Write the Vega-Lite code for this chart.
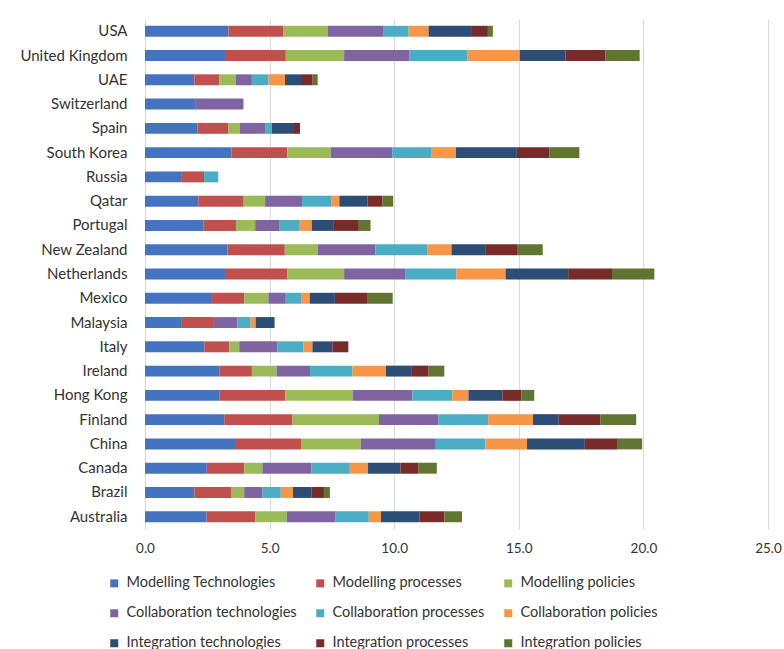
{
  "$schema": "https://vega.github.io/schema/vega-lite/v6.json",
  "width": 623,
  "height": 510,
  "autosize": {"type": "none"},
  "padding": {"left": 145, "top": 19, "right": 16, "bottom": 120},
  "background": "white",
  "datasets": {
    "dims": [
      {"dimension": "Modelling Technologies", "rank": 1},
      {"dimension": "Modelling processes", "rank": 2},
      {"dimension": "Modelling policies", "rank": 3},
      {"dimension": "Collaboration technologies", "rank": 4},
      {"dimension": "Collaboration processes", "rank": 5},
      {"dimension": "Collaboration policies", "rank": 6},
      {"dimension": "Integration technologies", "rank": 7},
      {"dimension": "Integration processes", "rank": 8},
      {"dimension": "Integration policies", "rank": 9}
    ]
  },
  "data": {
    "values": [
      {"country": "USA", "Modelling Technologies": 3.35, "Modelling processes": 2.19, "Modelling policies": 1.80, "Collaboration technologies": 2.24, "Collaboration processes": 1.00, "Collaboration policies": 0.80, "Integration technologies": 1.74, "Integration processes": 0.64, "Integration policies": 0.20},
      {"country": "United Kingdom", "Modelling Technologies": 3.21, "Modelling processes": 2.44, "Modelling policies": 2.34, "Collaboration technologies": 2.61, "Collaboration processes": 2.34, "Collaboration policies": 2.10, "Integration technologies": 1.84, "Integration processes": 1.60, "Integration policies": 1.37},
      {"country": "UAE", "Modelling Technologies": 1.98, "Modelling processes": 1.00, "Modelling policies": 0.67, "Collaboration technologies": 0.64, "Collaboration processes": 0.67, "Collaboration policies": 0.66, "Integration technologies": 0.64, "Integration processes": 0.47, "Integration policies": 0.20},
      {"country": "Switzerland", "Modelling Technologies": 2.04, "Modelling processes": 0, "Modelling policies": 0, "Collaboration technologies": 1.91, "Collaboration processes": 0, "Collaboration policies": 0, "Integration technologies": 0, "Integration processes": 0, "Integration policies": 0},
      {"country": "Spain", "Modelling Technologies": 2.11, "Modelling processes": 1.24, "Modelling policies": 0.46, "Collaboration technologies": 1.01, "Collaboration processes": 0.27, "Collaboration policies": 0, "Integration technologies": 0.89, "Integration processes": 0.24, "Integration policies": 0},
      {"country": "South Korea", "Modelling Technologies": 3.47, "Modelling processes": 2.24, "Modelling policies": 1.74, "Collaboration technologies": 2.47, "Collaboration processes": 1.56, "Collaboration policies": 1.00, "Integration technologies": 2.44, "Integration processes": 1.30, "Integration policies": 1.21},
      {"country": "Russia", "Modelling Technologies": 1.48, "Modelling processes": 0.89, "Modelling policies": 0, "Collaboration technologies": 0, "Collaboration processes": 0.57, "Collaboration policies": 0, "Integration technologies": 0, "Integration processes": 0, "Integration policies": 0},
      {"country": "Qatar", "Modelling Technologies": 2.14, "Modelling processes": 1.82, "Modelling policies": 0.86, "Collaboration technologies": 1.48, "Collaboration processes": 1.19, "Collaboration policies": 0.31, "Integration technologies": 1.13, "Integration processes": 0.60, "Integration policies": 0.43},
      {"country": "Portugal", "Modelling Technologies": 2.34, "Modelling processes": 1.31, "Modelling policies": 0.77, "Collaboration technologies": 0.96, "Collaboration processes": 0.83, "Collaboration policies": 0.48, "Integration technologies": 0.89, "Integration processes": 1.00, "Integration policies": 0.47},
      {"country": "New Zealand", "Modelling Technologies": 3.31, "Modelling processes": 2.30, "Modelling policies": 1.33, "Collaboration technologies": 2.31, "Collaboration processes": 2.07, "Collaboration policies": 0.98, "Integration technologies": 1.35, "Integration processes": 1.28, "Integration policies": 1.03},
      {"country": "Netherlands", "Modelling Technologies": 3.21, "Modelling processes": 2.51, "Modelling policies": 2.27, "Collaboration technologies": 2.47, "Collaboration processes": 2.03, "Collaboration policies": 1.98, "Integration technologies": 2.51, "Integration processes": 1.76, "Integration policies": 1.70},
      {"country": "Mexico", "Modelling Technologies": 2.65, "Modelling processes": 1.33, "Modelling policies": 0.97, "Collaboration technologies": 0.70, "Collaboration processes": 0.64, "Collaboration policies": 0.32, "Integration technologies": 1.01, "Integration processes": 1.29, "Integration policies": 1.03},
      {"country": "Malaysia", "Modelling Technologies": 1.48, "Modelling processes": 1.25, "Modelling policies": 0, "Collaboration technologies": 0.97, "Collaboration processes": 0.54, "Collaboration policies": 0.20, "Integration technologies": 0.76, "Integration processes": 0, "Integration policies": 0},
      {"country": "Italy", "Modelling Technologies": 2.38, "Modelling processes": 1.00, "Modelling policies": 0.40, "Collaboration technologies": 1.54, "Collaboration processes": 1.03, "Collaboration policies": 0.37, "Integration technologies": 0.80, "Integration processes": 0.64, "Integration policies": 0},
      {"country": "Ireland", "Modelling Technologies": 2.98, "Modelling processes": 1.31, "Modelling policies": 0.99, "Collaboration technologies": 1.34, "Collaboration processes": 1.71, "Collaboration policies": 1.34, "Integration technologies": 1.04, "Integration processes": 0.67, "Integration policies": 0.63},
      {"country": "Hong Kong", "Modelling Technologies": 2.98, "Modelling processes": 2.65, "Modelling policies": 2.70, "Collaboration technologies": 2.40, "Collaboration processes": 1.60, "Collaboration policies": 0.65, "Integration technologies": 1.36, "Integration processes": 0.76, "Integration policies": 0.52},
      {"country": "Finland", "Modelling Technologies": 3.18, "Modelling processes": 2.74, "Modelling policies": 3.47, "Collaboration technologies": 2.38, "Collaboration processes": 2.00, "Collaboration policies": 1.80, "Integration technologies": 1.03, "Integration processes": 1.67, "Integration policies": 1.44},
      {"country": "China", "Modelling Technologies": 3.61, "Modelling processes": 2.65, "Modelling policies": 2.40, "Collaboration technologies": 3.01, "Collaboration processes": 1.99, "Collaboration policies": 1.67, "Integration technologies": 2.32, "Integration processes": 1.29, "Integration policies": 1.01},
      {"country": "Canada", "Modelling Technologies": 2.48, "Modelling processes": 1.50, "Modelling policies": 0.73, "Collaboration technologies": 1.96, "Collaboration processes": 1.55, "Collaboration policies": 0.73, "Integration technologies": 1.30, "Integration processes": 0.73, "Integration policies": 0.73},
      {"country": "Brazil", "Modelling Technologies": 1.98, "Modelling processes": 1.47, "Modelling policies": 0.53, "Collaboration technologies": 0.73, "Collaboration processes": 0.74, "Collaboration policies": 0.49, "Integration technologies": 0.75, "Integration processes": 0.49, "Integration policies": 0.24},
      {"country": "Australia", "Modelling Technologies": 2.47, "Modelling processes": 1.95, "Modelling policies": 1.27, "Collaboration technologies": 1.96, "Collaboration processes": 1.33, "Collaboration policies": 0.49, "Integration technologies": 1.54, "Integration processes": 1.00, "Integration policies": 0.71}
    ]
  },
  "transform": [
    {
      "fold": ["Modelling Technologies", "Modelling processes", "Modelling policies", "Collaboration technologies", "Collaboration processes", "Collaboration policies", "Integration technologies", "Integration processes", "Integration policies"],
      "as": ["dimension", "score"]
    },
    {
      "lookup": "dimension",
      "from": {"data": {"name": "dims"}, "key": "dimension", "fields": ["rank"]}
    }
  ],
  "mark": {"type": "bar"},
  "encoding": {
    "y": {
      "field": "country",
      "type": "nominal",
      "sort": ["USA", "United Kingdom", "UAE", "Switzerland", "Spain", "South Korea", "Russia", "Qatar", "Portugal", "New Zealand", "Netherlands", "Mexico", "Malaysia", "Italy", "Ireland", "Hong Kong", "Finland", "China", "Canada", "Brazil", "Australia"],
      "scale": {"paddingInner": 0.55, "paddingOuter": 0.28},
      "axis": {
        "title": null,
        "domain": false,
        "ticks": false,
        "labelPadding": 18,
        "labelFont": "Lato",
        "labelFontSize": 15,
        "labelColor": "#333333"
      }
    },
    "x": {
      "field": "score",
      "type": "quantitative",
      "stack": "zero",
      "scale": {"domain": [0, 25], "nice": false},
      "axis": {
        "title": null,
        "values": [0, 5, 10, 15, 20, 25],
        "format": ".1f",
        "domain": false,
        "ticks": false,
        "labelFlush": false,
        "labelPadding": 12,
        "labelFont": "Lato",
        "labelFontSize": 13.5,
        "labelColor": "#333333",
        "gridColor": "#d9d9d9",
        "gridWidth": 1
      }
    },
    "order": {"field": "rank", "type": "quantitative", "sort": "ascending"},
    "color": {
      "field": "dimension",
      "type": "nominal",
      "scale": {
        "domain": ["Modelling Technologies", "Modelling processes", "Modelling policies", "Collaboration technologies", "Collaboration processes", "Collaboration policies", "Integration technologies", "Integration processes", "Integration policies"],
        "range": ["#4474BF", "#C0504D", "#9BBB59", "#8064A2", "#4BACC6", "#F79646", "#2C4D75", "#772C2A", "#5F7530"]
      },
      "legend": {
        "title": null,
        "orient": "none",
        "legendX": -38,
        "legendY": 557,
        "direction": "horizontal",
        "columns": 3,
        "columnPadding": 16,
        "rowPadding": 15,
        "symbolType": "square",
        "symbolSize": 64,
        "symbolStrokeWidth": 0,
        "labelFont": "Lato",
        "labelFontSize": 14.5,
        "labelColor": "#333333",
        "labelOffset": 5,
        "labelLimit": 0
      }
    }
  },
  "config": {
    "view": {"stroke": null}
  }
}
